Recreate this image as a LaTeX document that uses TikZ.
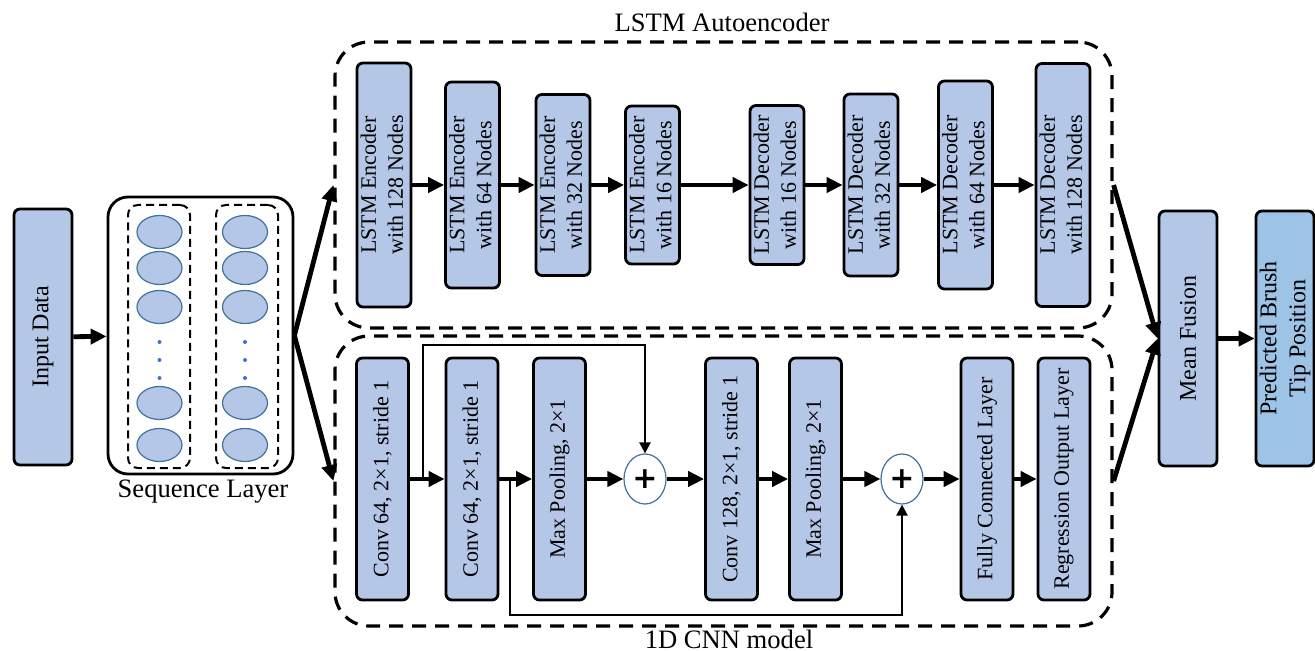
\documentclass[tikz,border=0pt]{standalone}
\usepackage{fontspec}
\setmainfont{Liberation Serif}
\newfontfamily\plusfont{DejaVu Sans}
\usetikzlibrary{arrows.meta,shapes.geometric}
\definecolor{boxblue}{HTML}{B4C7E7}
\definecolor{outblue}{HTML}{9DC3E6}
\definecolor{edgeblue}{HTML}{41719C}
\definecolor{dotblue}{HTML}{4472C4}
\newcommand{\vlines}[1]{\rotatebox{90}{\begin{tabular}{@{}c@{}}#1\end{tabular}}}

\begin{document}
\begin{tikzpicture}[x=0.5pt,y=-0.5pt,
  layer/.style={draw,line width=1.4pt,rounded corners=3pt,fill=boxblue,minimum width=26pt,inner sep=0pt,font=\fontsize{11}{13.5}\selectfont},
  cnnlayer/.style={layer,minimum height=121pt},
  bigbox/.style={layer,minimum width=29pt,minimum height=128pt,font=\fontsize{12}{14.5}\selectfont},
  group/.style={draw,line width=1.6pt,dash pattern=on 7pt off 4.5pt,rounded corners=17pt,inner sep=0pt,minimum width=388.5pt},
  column/.style={draw,line width=1pt,dash pattern=on 4pt off 2.5pt,rounded corners=5pt,inner sep=0pt,minimum width=31pt,minimum height=131.5pt},
  cell/.style={ellipse,draw=edgeblue,line width=0.6pt,fill=boxblue,minimum width=22.5pt,minimum height=16.5pt,inner sep=0pt},
  adder/.style={ellipse,draw=edgeblue,line width=0.6pt,fill=white,minimum width=21pt,minimum height=25pt,inner sep=0pt,font=\plusfont\bfseries\fontsize{15}{15}\selectfont},
  flow/.style={line width=2.4pt,-{Triangle[length=8pt,width=7.5pt]}},
  skip/.style={line width=1.2pt,-{Triangle[length=5.5pt,width=5.5pt]}},
  caption/.style={font=\fontsize{13.3}{16}\selectfont}]
\useasboundingbox (0,0) rectangle (1315,651);

\node[bigbox] (in) at (43,337) {\rotatebox{90}{Input Data}};

\node[draw,line width=1.4pt,rounded corners=10pt,minimum width=92.5pt,minimum height=138.5pt] (seq) at (200.5,335.5) {};
\node[column] (colA) at (159,336.5) {};
\node[column] (colB) at (247,336.5) {};
\foreach \y [count=\i] in {232,268,307,403,445}{
  \node[cell] (a\i) at (159.5,\y) {};
  \node[cell] (b\i) at (245,\y) {};
}
\foreach \y in {342,360,378}{
  \fill[dotblue] (159.5,\y) circle (1pt);
  \fill[dotblue] (245,\y) circle (1pt);
}
\node[caption] (seqlab) at (203,492) {Sequence Layer};

\node[group,minimum height=143pt] (lstmgrp) at (723.5,185) {};
\node[caption] (lstmlab) at (722,22) {LSTM Autoencoder};
\node[layer,minimum height=122pt] (e1) at (384,185) {\vlines{LSTM Encoder\\with 128 Nodes}};
\node[layer,minimum height=103pt] (e2) at (472.5,185) {\vlines{LSTM Encoder\\with 64 Nodes}};
\node[layer,minimum height=90.5pt] (e3) at (563,185) {\vlines{LSTM Encoder\\with 32 Nodes}};
\node[layer,minimum height=79pt] (e4) at (652.5,185) {\vlines{LSTM Encoder\\with 16 Nodes}};
\node[layer,minimum height=79.5pt] (d1) at (777,185) {\vlines{LSTM Decoder\\with 16 Nodes}};
\node[layer,minimum height=91pt] (d2) at (871,185) {\vlines{LSTM Decoder\\with 32 Nodes}};
\node[layer,minimum height=104pt] (d3) at (965.5,185) {\vlines{LSTM Decoder\\with 64 Nodes}};
\node[layer,minimum height=121.5pt] (d4) at (1063,185) {\vlines{LSTM Decoder\\with 128 Nodes}};

\node[group,minimum height=145pt] (cnngrp) at (723.5,481) {};
\node[caption] (cnnlab) at (729,639) {1D CNN model};
\node[cnnlayer] (c1) at (382.5,479) {\rotatebox{90}{Conv 64, 2×1, stride 1}};
\node[cnnlayer] (c2) at (472,479) {\rotatebox{90}{Conv 64, 2×1, stride 1}};
\node[cnnlayer] (c3) at (559.5,479) {\rotatebox{90}{Max Pooling, 2×1}};
\node[adder] (p1) at (645,479) {+};
\node[cnnlayer] (c4) at (731.5,479) {\rotatebox{90}{Conv 128, 2×1, stride 1}};
\node[cnnlayer] (c5) at (815.5,479) {\rotatebox{90}{Max Pooling, 2×1}};
\node[adder] (p2) at (902,479) {+};
\node[cnnlayer] (c6) at (987,479) {\rotatebox{90}{Fully Connected Layer}};
\node[cnnlayer] (c7) at (1064,479) {\rotatebox{90}{Regression Output Layer}};

\node[bigbox,minimum height=127.5pt] (mf) at (1188,338.5) {\rotatebox{90}{Mean Fusion}};
\node[bigbox,minimum width=28pt,minimum height=127.5pt,fill=outblue] (out) at (1285,338.5) {\vlines{Predicted Brush\\Tip Position}};

\draw[flow] (in) -- (seq);
\draw[flow] (seq.east) -- (lstmgrp.west);
\draw[flow] (seq.east) -- (cnngrp.west);
\draw[flow] (e1) -- (e2);
\draw[flow] (e2) -- (e3);
\draw[flow] (e3) -- (e4);
\draw[flow] (e4) -- (d1);
\draw[flow] (d1) -- (d2);
\draw[flow] (d2) -- (d3);
\draw[flow] (d3) -- (d4);
\draw[flow] (c1) -- (c2);
\draw[flow] (c2) -- (c3);
\draw[flow] (c3) -- (p1);
\draw[flow] (p1) -- (c4);
\draw[flow] (c4) -- (c5);
\draw[flow] (c5) -- (p2);
\draw[flow] (p2) -- (c6);
\draw[flow] (c6) -- (c7);
\draw[flow] (lstmgrp.east) -- (mf.west);
\draw[flow] (cnngrp.east) -- (mf.west);
\draw[flow] (mf) -- (out);

\coordinate (s1) at (423,479);
\coordinate (s1up) at (423,345);
\coordinate (s2) at (510,479);
\coordinate (s2down) at (510,615);
\draw[skip] (s1) -- (s1up) -| (p1.north);
\draw[skip] (s2) -- (s2down) -| (p2.south);
\end{tikzpicture}
\end{document}
